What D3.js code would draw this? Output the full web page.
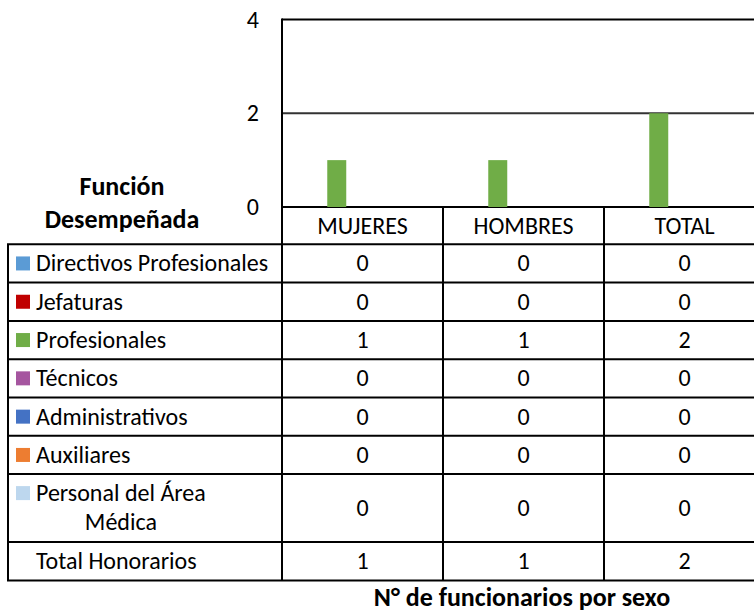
<!DOCTYPE html>
<html>
<head>
<meta charset="utf-8">
<script src="https://cdn.jsdelivr.net/npm/d3@7"></script>
<style>
  body { margin: 0; background: #fff; }
  svg { display: block; font-family: Carlito, Calibri, Lato, sans-serif; }
</style>
</head>
<body>
<svg id="chart"></svg>
<script>
const categories = ["MUJERES", "HOMBRES", "TOTAL"];
const seriesNames = ["Directivos Profesionales", "Jefaturas", "Profesionales", "Técnicos",
  "Administrativos", "Auxiliares", "Personal del Área Médica", "Total Honorarios"];
const directivos = [0, 0, 0];
const jefaturas = [0, 0, 0];
const profesionales = [1, 1, 2];
const tecnicos = [0, 0, 0];
const administrativos = [0, 0, 0];
const auxiliares = [0, 0, 0];
const personalMedico = [0, 0, 0];
const totalHonorarios = [1, 1, 2];
const seriesColors = ["#5B9BD5", "#C00000", "#70AD47", "#A5559F", "#4472C4", "#ED7D31", "#BDD7EE", "none"];
const yTicks = [0, 2, 4];

const seriesValues = [directivos, jefaturas, profesionales, tecnicos,
  administrativos, auxiliares, personalMedico, totalHonorarios];

const W = 754, H = 614;
const FS = 24;
const svg = d3.select("#chart").attr("width", W).attr("height", H);

const plotLeft = 282, plotTop = 19.5, plotBottom = 207;
const x = d3.scaleBand().domain(categories).range([plotLeft, plotLeft + 161 * 3]);
const y = d3.scaleLinear().domain([0, 4]).range([plotBottom, plotTop]);
const inner = d3.scaleBand().domain(seriesNames).range([0, x.bandwidth()])
  .paddingInner(0).paddingOuter(0.24).align(0.8);

// gridlines
svg.append("g").selectAll("line")
  .data(yTicks)
  .enter().append("line")
  .attr("x1", plotLeft).attr("x2", x.range()[1])
  .attr("y1", d => y(d)).attr("y2", d => y(d))
  .attr("stroke", d => d === 2 ? "#333" : "#000")
  .attr("stroke-width", 2);

// y tick labels
svg.append("g").selectAll("text")
  .data(yTicks)
  .enter().append("text")
  .attr("x", 259)
  .attr("y", d => y(d) + 8)
  .attr("text-anchor", "end")
  .attr("font-size", FS)
  .text(d => d);

// bars
const barData = [];
seriesNames.forEach((s, si) => {
  categories.forEach((c, ci) => {
    barData.push({ series: s, cat: c, value: seriesValues[si][ci], color: seriesColors[si] });
  });
});
svg.append("g").selectAll("rect")
  .data(barData.filter(d => d.color !== "none"))
  .enter().append("rect")
  .attr("x", d => x(d.cat) + inner(d.series))
  .attr("width", inner.bandwidth())
  .attr("y", d => y(d.value))
  .attr("height", d => y(0) - y(d.value))
  .attr("fill", d => d.color);

// data table
const rowHeights = [38.3, 38.3, 38.3, 38.3, 38.3, 38.3, 68, 38.3];
const tableTop = 244.3, tableLeft = 8;
const rowTops = [tableTop];
rowHeights.forEach((h, i) => rowTops.push(rowTops[i] + h));
const tableBottom = rowTops[rowTops.length - 1];
const right = x.range()[1];

const table = svg.append("g");
table.selectAll("line.h")
  .data(rowTops)
  .enter().append("line")
  .attr("class", "h")
  .attr("x1", tableLeft - 1).attr("x2", right)
  .attr("y1", d => d).attr("y2", d => d)
  .attr("stroke", "#000").attr("stroke-width", 2);

table.append("line")
  .attr("x1", tableLeft).attr("x2", tableLeft)
  .attr("y1", tableTop).attr("y2", tableBottom)
  .attr("stroke", "#000").attr("stroke-width", 2);

table.selectAll("line.v")
  .data(categories)
  .enter().append("line")
  .attr("class", "v")
  .attr("x1", d => x(d)).attr("x2", d => x(d))
  .attr("y1", d => d === categories[0] ? plotTop - 1 : plotBottom)
  .attr("y2", tableBottom)
  .attr("stroke", "#000").attr("stroke-width", 2);

// header labels
table.selectAll("text.head")
  .data(categories)
  .enter().append("text")
  .attr("class", "head")
  .attr("x", d => x(d) + x.bandwidth() / 2)
  .attr("y", (plotBottom + tableTop) / 2 + 8)
  .attr("text-anchor", "middle")
  .attr("font-size", FS)
  .text(d => d);

// row labels + legend keys
seriesNames.forEach((s, si) => {
  const top = rowTops[si], h = rowHeights[si];
  if (seriesColors[si] !== "none") {
    table.append("rect")
      .attr("x", 16).attr("width", 14)
      .attr("y", si === 6 ? top + 12 : top + h / 2 - 7).attr("height", 14)
      .attr("fill", seriesColors[si]);
  }
  if (si === 6) {
    const l1 = table.append("text").attr("font-size", FS)
      .attr("x", 36).attr("y", top + 27).text("Personal del Área");
    const w = l1.node().getComputedTextLength();
    table.append("text").attr("font-size", FS).attr("text-anchor", "middle")
      .attr("x", 36 + w / 2).attr("y", top + 56).text("Médica");
  } else {
    table.append("text")
      .attr("x", 36).attr("y", top + h / 2 + 8)
      .attr("font-size", FS)
      .text(s);
  }
  categories.forEach((c, ci) => {
    table.append("text")
      .attr("x", x(c) + x.bandwidth() / 2)
      .attr("y", top + h / 2 + 8)
      .attr("text-anchor", "middle")
      .attr("font-size", FS)
      .text(seriesValues[si][ci]);
  });
});

// titles
const ft = svg.append("text").attr("font-size", 26).attr("font-weight", "bold").attr("text-anchor", "middle");
ft.append("tspan").attr("x", 122).attr("y", 195).text("Función");
ft.append("tspan").attr("x", 122).attr("y", 228).text("Desempeñada");

svg.append("text")
  .attr("x", 522).attr("y", 606)
  .attr("text-anchor", "middle")
  .attr("font-size", 26)
  .attr("font-weight", "bold")
  .text("N° de funcionarios por sexo");
</script>
</body>
</html>
